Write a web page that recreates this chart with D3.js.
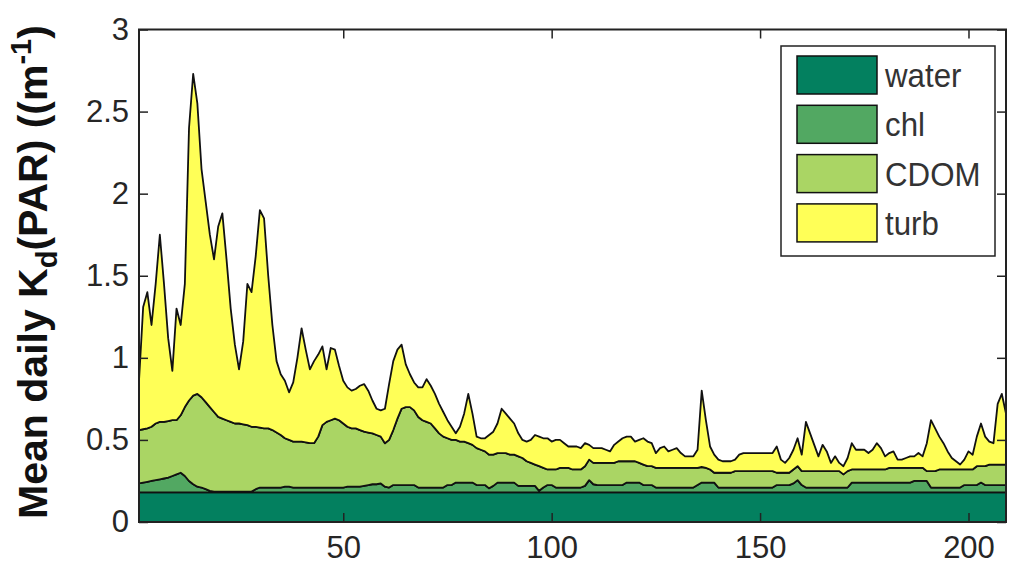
<!DOCTYPE html>
<html>
<head>
<meta charset="utf-8">
<script src="https://cdn.jsdelivr.net/npm/d3@7"></script>
<style>
  body { margin: 0; background: #fff; }
</style>
</head>
<body>
<div id="chart"></div>
<script>
// Series names and colours (MATLAB area plot)
const seriesNames = ["water", "chl", "CDOM", "turb"];
const seriesColors = ["#03805f", "#52a862", "#aad564", "#ffff57"];

const xTicks = [50, 100, 150, 200];
const xTickLabels = ["50", "100", "150", "200"];
const yTicks = [0, 0.5, 1, 1.5, 2, 2.5, 3];
const yTickLabels = ["0", "0.5", "1", "1.5", "2", "2.5", "3"];

// day index 1..209
const days = d3.range(1, 210);

const water = [
  0.18,0.18,0.18,0.18,0.18,0.18,0.18,0.18,0.18,0.18,0.18,0.18,0.18,0.18,0.18,0.18,0.18,0.18,0.18,
  0.18,0.18,0.18,0.18,0.18,0.18,0.18,0.18,0.18,0.18,0.18,0.18,0.18,0.18,0.18,0.18,0.18,0.18,0.18,
  0.18,0.18,0.18,0.18,0.18,0.18,0.18,0.18,0.18,0.18,0.18,0.18,0.18,0.18,0.18,0.18,0.18,0.18,0.18,
  0.18,0.18,0.18,0.18,0.18,0.18,0.18,0.18,0.18,0.18,0.18,0.18,0.18,0.18,0.18,0.18,0.18,0.18,0.18,
  0.18,0.18,0.18,0.18,0.18,0.18,0.18,0.18,0.18,0.18,0.18,0.18,0.18,0.18,0.18,0.18,0.18,0.18,0.18,
  0.18,0.18,0.18,0.18,0.18,0.18,0.18,0.18,0.18,0.18,0.18,0.18,0.18,0.18,0.18,0.18,0.18,0.18,0.18,
  0.18,0.18,0.18,0.18,0.18,0.18,0.18,0.18,0.18,0.18,0.18,0.18,0.18,0.18,0.18,0.18,0.18,0.18,0.18,
  0.18,0.18,0.18,0.18,0.18,0.18,0.18,0.18,0.18,0.18,0.18,0.18,0.18,0.18,0.18,0.18,0.18,0.18,0.18,
  0.18,0.18,0.18,0.18,0.18,0.18,0.18,0.18,0.18,0.18,0.18,0.18,0.18,0.18,0.18,0.18,0.18,0.18,0.18,
  0.18,0.18,0.18,0.18,0.18,0.18,0.18,0.18,0.18,0.18,0.18,0.18,0.18,0.18,0.18,0.18,0.18,0.18,0.18,
  0.18,0.18,0.18,0.18,0.18,0.18,0.18,0.18,0.18,0.18,0.18,0.18,0.18,0.18,0.18,0.18,0.18,0.18,0.18
];

const chl = [
  0.055,0.06,0.065,0.07,0.075,0.08,0.085,0.09,0.10,0.11,
  0.12,0.10,0.07,0.05,0.035,0.03,0.02,0.01,0.005,0.005,
  0.005,0.005,0.005,0.005,0.005,0.005,0.005,0.005,0.02,0.03,
  0.03,0.03,0.03,0.03,0.03,0.035,0.035,0.03,0.03,0.03,
  0.03,0.03,0.03,0.03,0.03,0.03,0.03,0.03,0.03,0.03,
  0.035,0.035,0.035,0.035,0.04,0.045,0.05,0.05,0.055,0.035,
  0.03,0.045,0.045,0.045,0.045,0.045,0.045,0.03,0.03,0.03,
  0.03,0.03,0.03,0.03,0.045,0.045,0.06,0.06,0.06,0.06,
  0.06,0.045,0.045,0.045,0.025,0.04,0.06,0.06,0.06,0.06,
  0.06,0.04,0.04,0.04,0.04,0.04,0.01,0.03,0.045,0.045,
  0.03,0.03,0.03,0.03,0.03,0.03,0.03,0.04,0.075,0.05,
  0.045,0.045,0.045,0.045,0.045,0.045,0.045,0.06,0.06,0.06,
  0.06,0.045,0.045,0.045,0.03,0.03,0.03,0.03,0.03,0.03,
  0.03,0.03,0.03,0.03,0.045,0.06,0.06,0.06,0.06,0.03,
  0.03,0.03,0.03,0.03,0.03,0.03,0.03,0.03,0.03,0.03,
  0.03,0.03,0.03,0.045,0.045,0.045,0.045,0.055,0.075,0.045,
  0.03,0.03,0.03,0.03,0.03,0.03,0.03,0.03,0.03,0.03,
  0.03,0.06,0.06,0.06,0.06,0.06,0.06,0.06,0.06,0.06,
  0.06,0.06,0.06,0.06,0.06,0.06,0.07,0.07,0.07,0.07,
  0.03,0.03,0.03,0.03,0.03,0.03,0.03,0.03,0.045,0.045,
  0.045,0.045,0.06,0.045,0.045,0.045,0.045,0.045,0.045
];

const cdom = [
  0.325,0.325,0.325,0.33,0.345,0.35,0.345,0.345,0.34,0.33,
  0.35,0.42,0.49,0.54,0.565,0.55,0.53,0.51,0.485,0.455,
  0.445,0.435,0.425,0.415,0.415,0.41,0.405,0.395,0.38,0.365,
  0.36,0.36,0.35,0.335,0.32,0.295,0.285,0.28,0.28,0.28,
  0.275,0.27,0.27,0.31,0.38,0.40,0.41,0.42,0.41,0.39,
  0.365,0.355,0.355,0.345,0.33,0.32,0.31,0.30,0.285,0.265,
  0.29,0.335,0.405,0.465,0.475,0.475,0.455,0.43,0.41,0.40,
  0.39,0.36,0.33,0.31,0.285,0.275,0.26,0.25,0.25,0.24,
  0.23,0.225,0.215,0.205,0.205,0.19,0.18,0.18,0.18,0.17,
  0.17,0.18,0.17,0.15,0.14,0.13,0.15,0.12,0.095,0.095,
  0.11,0.12,0.12,0.12,0.11,0.11,0.11,0.12,0.125,0.13,
  0.135,0.135,0.135,0.135,0.135,0.145,0.145,0.13,0.13,0.13,
  0.12,0.125,0.115,0.115,0.12,0.12,0.12,0.12,0.12,0.12,
  0.12,0.12,0.12,0.12,0.105,0.095,0.09,0.08,0.06,0.09,
  0.09,0.09,0.09,0.10,0.10,0.10,0.10,0.10,0.10,0.10,
  0.10,0.10,0.10,0.075,0.075,0.075,0.075,0.085,0.085,0.085,
  0.10,0.10,0.10,0.10,0.10,0.10,0.10,0.10,0.10,0.08,
  0.10,0.08,0.08,0.08,0.08,0.08,0.08,0.08,0.08,0.08,
  0.09,0.09,0.09,0.09,0.09,0.09,0.08,0.08,0.08,0.06,
  0.10,0.10,0.11,0.11,0.11,0.11,0.11,0.11,0.095,0.095,
  0.095,0.115,0.10,0.115,0.125,0.125,0.125,0.125,0.125
];

const turb = [
  0.30,0.745,0.83,0.62,0.85,1.14,0.84,0.505,0.30,0.68,
  0.55,0.75,1.66,1.96,1.77,1.39,1.22,1.05,0.93,1.16,
  1.25,0.98,0.69,0.48,0.33,0.505,0.86,0.82,1.04,1.325,
  1.28,0.93,0.64,0.435,0.37,0.35,0.29,0.36,0.51,0.69,
  0.565,0.45,0.50,0.50,0.48,0.32,0.44,0.42,0.33,0.26,
  0.24,0.23,0.24,0.27,0.29,0.255,0.20,0.16,0.16,0.21,
  0.34,0.42,0.42,0.39,0.26,0.20,0.17,0.18,0.20,0.26,
  0.23,0.21,0.18,0.15,0.11,0.08,0.04,0.09,0.17,0.30,
  0.19,0.07,0.07,0.08,0.12,0.14,0.18,0.27,0.24,0.22,
  0.19,0.14,0.11,0.12,0.14,0.18,0.18,0.18,0.19,0.17,
  0.18,0.17,0.15,0.13,0.14,0.14,0.13,0.14,0.09,0.09,
  0.09,0.09,0.08,0.07,0.11,0.12,0.14,0.15,0.15,0.12,
  0.14,0.16,0.15,0.14,0.09,0.12,0.13,0.10,0.11,0.12,
  0.09,0.07,0.07,0.07,0.11,0.465,0.29,0.14,0.11,0.08,
  0.07,0.07,0.07,0.07,0.10,0.11,0.11,0.11,0.11,0.11,
  0.11,0.11,0.11,0.16,0.08,0.06,0.09,0.12,0.17,0.10,
  0.30,0.23,0.16,0.09,0.16,0.12,0.05,0.09,0.05,0.05,
  0.08,0.16,0.12,0.12,0.12,0.10,0.12,0.16,0.13,0.08,
  0.09,0.10,0.05,0.05,0.06,0.07,0.07,0.09,0.07,0.17,
  0.31,0.26,0.20,0.16,0.11,0.07,0.05,0.03,0.06,0.11,
  0.09,0.18,0.26,0.18,0.14,0.13,0.37,0.43,0.31
];

const width = 1009, height = 577;
const plot = { left: 139, right: 1006, top: 29.5, bottom: 522 };
const font = "'Liberation Sans', Arial, Helvetica, sans-serif";

const svg = d3.select("#chart")
    .append("svg")
    .attr("width", width)
    .attr("height", height);

const x = d3.scaleLinear().domain([1, 209]).range([plot.left, plot.right]);
const y = d3.scaleLinear().domain([0, 3]).range([plot.bottom, plot.top]);

// Build rows and stack them
const rows = days.map((d, i) => ({
    day: d, water: water[i], chl: chl[i], CDOM: cdom[i], turb: turb[i]
}));
const stacked = d3.stack().keys(seriesNames)(rows);

const color = d3.scaleOrdinal().domain(seriesNames).range(seriesColors);

svg.append("clipPath").attr("id", "clip")
    .append("rect")
    .attr("x", plot.left).attr("y", plot.top)
    .attr("width", plot.right - plot.left).attr("height", plot.bottom - plot.top);

const area = d3.area()
    .x(d => x(d.data.day))
    .y0(d => y(d[0]))
    .y1(d => y(d[1]));

svg.append("g")
    .attr("clip-path", "url(#clip)")
    .selectAll("path")
    .data(stacked)
    .join("path")
    .attr("d", area)
    .attr("fill", d => color(d.key))
    .attr("stroke", "#111")
    .attr("stroke-width", 1.8)
    .attr("stroke-linejoin", "round");

// Axes (ticks inward on all four sides, MATLAB box)
function styleAxis(g) {
    g.select(".domain").remove();
    g.attr("font-family", font).attr("font-size", 31);
    g.selectAll(".tick line").attr("stroke", "#222").attr("stroke-width", 1.5);
    g.selectAll(".tick text").attr("fill", "#262626");
}

svg.append("g")
    .attr("transform", `translate(0,${plot.bottom})`)
    .call(d3.axisBottom(x).tickValues(xTicks)
        .tickFormat((d, i) => xTickLabels[i]).tickSize(-9).tickPadding(14))
    .call(styleAxis);

svg.append("g")
    .attr("transform", `translate(0,${plot.top})`)
    .call(d3.axisTop(x).tickValues(xTicks).tickFormat("").tickSize(-9))
    .call(styleAxis);

svg.append("g")
    .attr("transform", `translate(${plot.left},0)`)
    .call(d3.axisLeft(y).tickValues(yTicks)
        .tickFormat((d, i) => yTickLabels[i]).tickSize(-9).tickPadding(10))
    .call(styleAxis);

svg.append("g")
    .attr("transform", `translate(${plot.right},0)`)
    .call(d3.axisRight(y).tickValues(yTicks).tickFormat("").tickSize(-9))
    .call(styleAxis);

// Frame
svg.append("rect")
    .attr("x", plot.left).attr("y", plot.top)
    .attr("width", plot.right - plot.left).attr("height", plot.bottom - plot.top)
    .attr("fill", "none")
    .attr("stroke", "#222")
    .attr("stroke-width", 2);

// Y axis title with subscript and superscript
const title = svg.append("text")
    .attr("transform", "translate(47,272) rotate(-90)")
    .attr("text-anchor", "middle")
    .attr("font-family", font)
    .attr("font-weight", "bold")
    .attr("font-size", 41)
    .attr("fill", "#111");
title.append("tspan").text("Mean daily K");
title.append("tspan").attr("dy", 10).attr("font-size", 29).text("d");
title.append("tspan").attr("dy", -10).text("(PAR) ((m");
title.append("tspan").attr("dy", -16).attr("font-size", 29).text("-1");
title.append("tspan").attr("dy", 16).text(")");

// Legend
const legend = svg.append("g");
legend.append("rect")
    .attr("x", 781).attr("y", 46)
    .attr("width", 214).attr("height", 210)
    .attr("fill", "#fff")
    .attr("stroke", "#222")
    .attr("stroke-width", 1.5);

const items = legend.selectAll("g.item")
    .data(seriesNames)
    .join("g")
    .attr("class", "item")
    .attr("transform", (d, i) => `translate(797,${56 + i * 49.3})`);

items.append("rect")
    .attr("width", 80).attr("height", 38)
    .attr("fill", d => color(d))
    .attr("stroke", "#111")
    .attr("stroke-width", 1.5);

items.append("text")
    .attr("transform", "translate(88,31) scale(0.92,1)")
    .attr("font-family", font)
    .attr("font-size", 34)
    .attr("fill", "#333")
    .text(d => d);
</script>
</body>
</html>
